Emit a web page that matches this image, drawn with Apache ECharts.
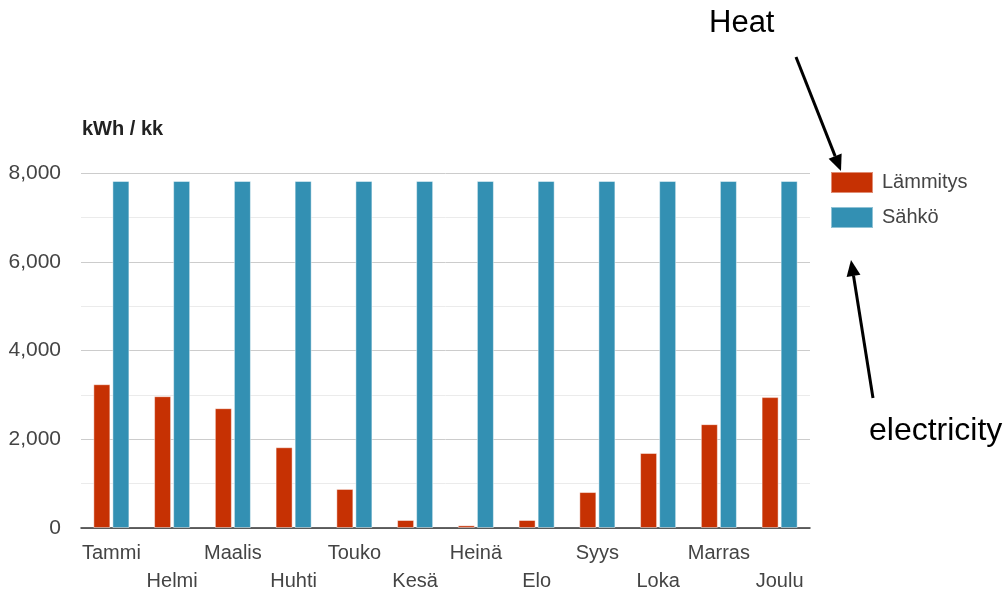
<!DOCTYPE html>
<html>
<head>
<meta charset="utf-8">
<script src="https://cdn.jsdelivr.net/npm/echarts@6/dist/echarts.min.js"></script>
<style>
html,body{margin:0;padding:0;background:#fff;}
#c{width:1004px;height:592px;}
</style>
</head>
<body>
<div id="c"></div>
<script>
const months = ['Tammi','Helmi','Maalis','Huhti','Touko','Kesä','Heinä','Elo','Syys','Loka','Marras','Joulu'];
const lammitys = [3240, 2970, 2700, 1820, 880, 180, 60, 180, 810, 1690, 2340, 2950];
const sahko = [7820, 7820, 7820, 7820, 7820, 7820, 7820, 7820, 7820, 7820, 7820, 7820];
const seriesNames = ['Lämmitys', 'Sähkö'];
const yTitle = 'kWh / kk';

const FONT = 'Arial, "Liberation Sans", sans-serif';
const chart = echarts.init(document.getElementById('c'), null, {renderer: 'canvas'});

function arrow(x1, y1, x2, y2) {
  const ang = Math.atan2(y2 - y1, x2 - x1);
  const L = 16, W = 7;
  const bx = x2 - L * Math.cos(ang), by = y2 - L * Math.sin(ang);
  const px = -Math.sin(ang) * W, py = Math.cos(ang) * W;
  return [
    {type: 'line', shape: {x1: x1, y1: y1, x2: bx, y2: by}, style: {stroke: '#000', lineWidth: 3}},
    {type: 'polygon', shape: {points: [[x2, y2], [bx + px, by + py], [bx - px, by - py]]}, style: {fill: '#000'}}
  ];
}

chart.setOption({
  animation: false,
  textStyle: {fontFamily: FONT},
  grid: {left: 81, right: 194, top: 173, bottom: 64, containLabel: false, outerBoundsMode: 'none'},
  title: {
    text: yTitle, left: 77, top: 114,
    textStyle: {fontFamily: FONT, fontSize: 20, fontWeight: 'bold', color: '#222'}
  },
  legend: {
    orient: 'vertical', left: 825, top: 166,
    itemWidth: 42, itemHeight: 21, itemGap: 12,
    icon: 'rect',
    textStyle: {fontFamily: FONT, fontSize: 20, color: '#444', padding: [0, 0, 0, 4]},
    data: seriesNames
  },
  xAxis: {
    type: 'category',
    data: months,
    axisLine: {show: true, lineStyle: {color: '#333', width: 1.5}},
    axisTick: {show: false},
    axisLabel: {
      interval: 0, fontFamily: FONT, fontSize: 20, color: '#444',
      margin: 11, lineHeight: 28,
      formatter: function (v, i) { return i % 2 ? '\n' + v : v; }
    }
  },
  yAxis: {
    type: 'value', min: 0, max: 8000, interval: 2000,
    axisLine: {show: false}, axisTick: {show: false},
    axisLabel: {
      fontFamily: FONT, fontSize: 21, color: '#444', margin: 20,
      formatter: function (v) { return v.toLocaleString('en-US'); }
    },
    splitLine: {lineStyle: {color: '#cccccc', width: 1}},
    minorTick: {show: false, splitNumber: 2},
    minorSplitLine: {show: true, lineStyle: {color: '#ebebeb', width: 1}}
  },
  series: [
    {
      name: seriesNames[0], type: 'bar', data: lammitys,
      barWidth: 17, barGap: '12%',
      itemStyle: {color: '#c63103', borderColor: 'rgba(255,255,255,0.45)', borderWidth: 1}
    },
    {
      name: seriesNames[1], type: 'bar', data: sahko,
      barWidth: 17,
      itemStyle: {color: '#3390b3', borderColor: 'rgba(255,255,255,0.45)', borderWidth: 1}
    }
  ],
  graphic: [
    {type: 'text', left: 709, top: 8, style: {text: 'Heat', font: '31px ' + FONT, fill: '#000'}},
    {type: 'text', left: 869, top: 415, style: {text: 'electricity', font: '32px ' + FONT, fill: '#000'}}
  ].concat(arrow(796, 57, 841, 171)).concat(arrow(873, 398, 851, 260))
});
</script>
</body>
</html>
